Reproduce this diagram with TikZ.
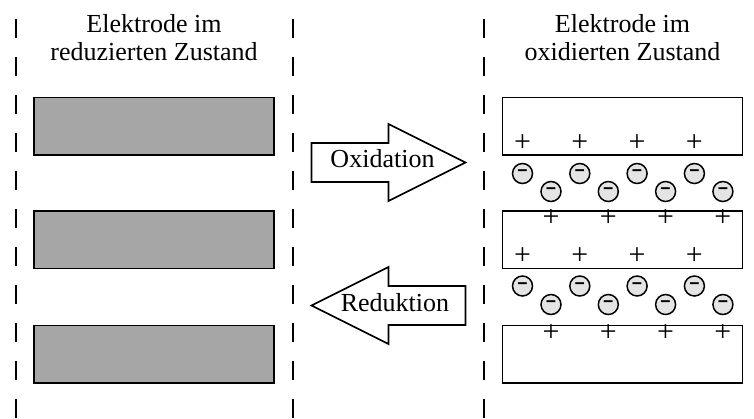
\documentclass[tikz,border=0pt]{standalone}
\usepackage{fontspec}
\setmainfont{Liberation Serif}
\setsansfont{Liberation Sans}
\usetikzlibrary{calc}
\definecolor{electrodegray}{RGB}{166,166,166}
\definecolor{anionfill}{RGB}{228,228,228}
\tikzset{
	divider/.style={line width=0.4mm, dash pattern=on 0.38cm off 0.38cm},
	electrode/.style={line width=0.3mm},
	fatarrow/.style={line width=0.35mm, fill=white, line join=miter},
	bigtext/.style={font=\fontsize{14.8}{15.8}\selectfont, inner sep=0pt},
	charge/.style={font=\fontsize{17}{17}\selectfont, inner sep=0pt},
	anion/.style={circle, draw, line width=0.3mm, fill=anionfill, minimum size=0.4cm, inner sep=0pt, font=\sffamily\bfseries\fontsize{10}{10}\selectfont}
}

\begin{document}
\begin{tikzpicture}
		%%%%% START %%%%%
		\useasboundingbox (0, 0) rectangle (15.08, 8.36);
		
		\draw[divider] (0.31, 7.98) -- (0.31, 0);
		\draw[divider] (5.85, 7.98) -- (5.85, 0);
		\draw[divider] (9.68, 7.98) -- (9.68, 0);
		
		\node[bigtext, align=center, anchor=base] (redtitle) at (3.08, 7.16) {Elektrode im\\reduzierten Zustand};
		\node[bigtext, align=center, anchor=base] (oxtitle) at (12.45, 7.16) {Elektrode im\\oxidierten Zustand};
		
		% reduced electrodes
		\foreach \y in {5.26, 2.99, 0.70}
			\draw[electrode, fill=electrodegray] (0.68, \y) rectangle (5.48, \y+1.15);
		
		% oxidized electrodes
		\foreach \y in {5.26, 2.99, 0.70}
			\draw[electrode] (10.05, \y) rectangle (14.85, \y+1.15);
		
		\draw[fatarrow, shift={(6.23, 5.11)}] (0, -0.39) -- (0, 0.39) -- (1.54, 0.39) -- (1.54, 0.77) -- (3.08, 0) -- (1.54, -0.77) -- (1.54, -0.39) -- cycle;
		\node[bigtext, anchor=base] (oxlabel) at (7.65, 5.01) {Oxidation};
		
		\draw[fatarrow, shift={(9.31, 2.25)}, xscale=-1] (0, -0.39) -- (0, 0.39) -- (1.54, 0.39) -- (1.54, 0.77) -- (3.08, 0) -- (1.54, -0.77) -- (1.54, -0.39) -- cycle;
		\node[bigtext, anchor=base] (redlabel) at (7.90, 2.13) {Reduktion};
		
		% charges
		\foreach \i in {0,...,3} {
			\node[charge] (pa\i) at ({10.45+1.146*\i}, 5.50) {+};
			\node[anion] (na\i) at ({10.45+1.146*\i}, 4.89) {−};
			\node[anion] (nb\i) at ({11.02+1.146*\i}, 4.53) {−};
			\node[charge] (pb\i) at ({11.02+1.146*\i}, 4.00) {+};
			\node[charge] (pc\i) at ({10.45+1.146*\i}, 3.23) {+};
			\node[anion] (nc\i) at ({10.45+1.146*\i}, 2.64) {−};
			\node[anion] (nd\i) at ({11.02+1.146*\i}, 2.27) {−};
			\node[charge] (pd\i) at ({11.02+1.146*\i}, 1.69) {+};
		}
		%%%%% END %%%%%
\end{tikzpicture}
\end{document}
